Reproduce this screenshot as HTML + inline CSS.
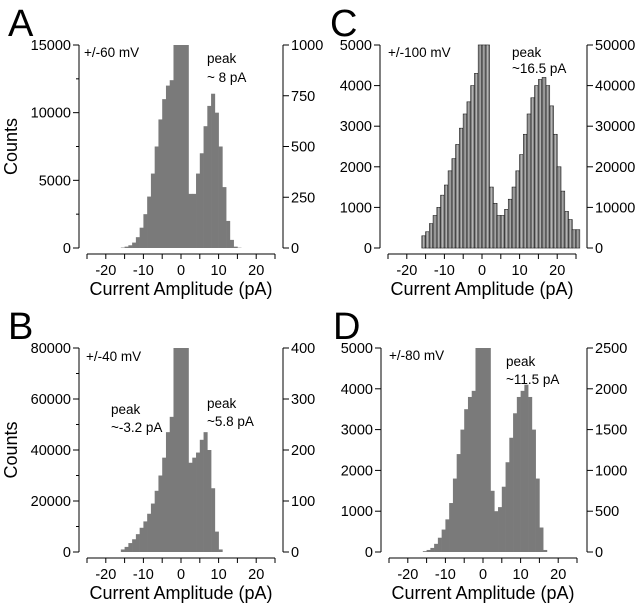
<!DOCTYPE html>
<html><head><meta charset="utf-8"><style>
html,body{margin:0;padding:0;background:#fff;}
svg{display:block;font-family:"Liberation Sans",Arial,sans-serif;}
</style></head><body>
<svg id="fig" width="640" height="607" viewBox="0 0 640 607">
<g id="root"></g>
</svg>
<script>
// Bin left edges in pA (1 pA bins)
const binCenters = [];
for (let b = -25; b <= 25; b++) binCenters.push(b);
// Counts per bin (left-axis units); bins -25..25
const countsA = [0,0,0,0,0,0,0,0,0,30,100,200,400,800,1500,2500,3800,5500,7500,9500,11000,12000,12400,20000,20000,20000,20000,4000,4000,5500,7000,9000,10500,11400,10000,7500,4500,2000,600,100,20,0,0,0,0,0,0,0,0,0,0];
const countsB = [0,0,0,0,0,0,0,0,0,1000,2000,3500,5000,7000,9500,12000,15000,19000,24000,30000,37000,47000,53000,90000,90000,90000,90000,35000,37000,39000,44000,47000,40000,25000,8000,1000,0,0,0,0,0,0,0,0,0,0,0,0,0,0,0];
const countsC = [0,0,0,0,0,0,0,0,0,300,400,600,800,1000,1300,1550,1900,2200,2550,2950,3300,3600,4000,4300,6000,6000,6000,1500,1100,800,800,950,1200,1500,1900,2300,2800,3300,3700,4000,4150,4200,4000,3500,2800,2000,1400,900,700,450,450];
const countsD = [0,0,0,0,0,0,0,0,0,20,50,100,200,350,550,800,1200,1800,2400,3000,3500,3800,3950,6000,6000,6000,6000,1500,1000,1100,1600,2200,2800,3400,3800,3950,4100,3800,3000,1800,600,50,0,0,0,0,0,0,0,0,0];
const leftTicksA = [0,5000,10000,15000], rightTicksA = [0,250,500,750,1000];
const leftTicksB = [0,20000,40000,60000,80000], rightTicksB = [0,100,200,300,400];
const leftTicksC = [0,1000,2000,3000,4000,5000], rightTicksC = [0,10000,20000,30000,40000,50000];
const leftTicksD = [0,1000,2000,3000,4000,5000], rightTicksD = [0,500,1000,1500,2000,2500];
const xTickLabels = [-20,-10,0,10,20];

const NS = "http://www.w3.org/2000/svg";
const root = document.getElementById('root');
function mk(tag, attrs, parent, txt){
  const e = document.createElementNS(NS, tag);
  for (const k in attrs) e.setAttribute(k, attrs[k]);
  if (txt !== undefined) e.textContent = txt;
  (parent||root).appendChild(e);
  return e;
}

function panel(p){
  const g = mk('g', {});
  
  
  const xs = v => p.x0 + v * 3.76;
  const ys = v => p.bottom - (v / p.lmax) * (p.bottom - p.top);
  const bars = mk('g', {}, g);
  
  
  binCenters.forEach((c, i) => {
    const v = Math.min(p.counts[i], p.lmax);
    if (v <= 0) return;
    const x1 = xs(c), x2 = xs(c + 1), y = ys(v);
    const r = mk('rect', {x: x1, y: y, width: x2 - x1 + (p.outline ? 0 : 0.3), height: p.bottom - y,
      fill: p.outline ? '#d0d0d0' : '#7a7a7a', stroke: p.outline ? '#222' : 'none', 'stroke-width': 0.7}, bars);
    
    
    if (p.outline) {
      for (let k = 1; k < 4; k++) {
        const lx = x1 + (x2 - x1) * k / 4;
        mk('line', {x1: lx, x2: lx, y1: y, y2: p.bottom, stroke: k % 2 ? '#444' : '#999', 'stroke-width': 0.5}, bars);
      }
    }
  });
  const la = mk('g', {}, g);
  
  
  mk('line', {x1: p.left, x2: p.left, y1: p.top, y2: p.bottom, stroke: '#000', 'stroke-width': 1}, la);
  p.lticks.forEach((t, i) => {
    const y = ys(t);
    mk('line', {x1: p.left - 6, x2: p.left, y1: y, y2: y, stroke: '#000'}, la);
    mk('text', {x: p.left - 8, y: y + 5, 'text-anchor': 'end', 'font-size': 14.5}, la, t);
    if (p.minor && i < p.lticks.length - 1) {
      const ym = ys((t + p.lticks[i + 1]) / 2);
      mk('line', {x1: p.left - 3, x2: p.left, y1: ym, y2: ym, stroke: '#000'}, la);
    }
  });
  const ra = mk('g', {}, g);
  
  
  mk('line', {x1: p.right, x2: p.right, y1: p.top, y2: p.bottom, stroke: '#000'}, ra);
  const rmax = p.rticks[p.rticks.length - 1];
  p.rticks.forEach(t => {
    const y = p.bottom - (t / rmax) * (p.bottom - p.top);
    mk('line', {x1: p.right, x2: p.right + 6, y1: y, y2: y, stroke: '#000'}, ra);
    mk('text', {x: p.right + 8, y: y + 5, 'font-size': 14.5}, ra, t);
  });
  const xa = mk('g', {}, g);
  
  
  mk('line', {x1: xs(-25), x2: xs(25), y1: p.xaxisY, y2: p.xaxisY, stroke: '#000'}, xa);
  for (let v = -25; v <= 25; v += 5) {
    mk('line', {x1: xs(v), x2: xs(v), y1: p.xaxisY, y2: p.xaxisY + 5, stroke: '#000'}, xa);
  }
  xTickLabels.forEach(v => {
    mk('text', {x: xs(v), y: p.xaxisY + 21, 'text-anchor': 'middle', 'font-size': 14.5}, xa, v);
  });
  const xt = mk('text', {x: xs(0), y: p.xaxisY + 41, 'text-anchor': 'middle', 'font-size': 18}, g, 'Current Amplitude (pA)');
  
  
  if (p.counts_label) {
    const ct = mk('text', {x: 0, y: 0, 'text-anchor': 'middle', 'font-size': 18,
      transform: 'translate(' + 17 + ',' + ((p.top + p.bottom) / 2) + ') rotate(-90)'}, g, 'Counts');
    
    
  }
  const L = mk('text', {x: p.letterX, y: p.top - 9, 'font-size': 38}, g, p.id);
  
  
  p.notes.forEach(n => {
    const t = mk('text', {x: n[0], y: n[1], 'font-size': 13.5}, g, n[2]);
    
    
  });
}

panel({id:'A', counts:countsA, lmax:15000, lticks:leftTicksA, rticks:rightTicksA, minor:true,
  left:79, right:283, top:45, bottom:248, xaxisY:254, x0:181, letterX:8, counts_label:true,
  notes:[[84,57,'+/-60 mV'],[207,63,'peak'],[207,82,'~ 8 pA']]});
panel({id:'B', counts:countsB, lmax:80000, lticks:leftTicksB, rticks:rightTicksB, minor:true,
  left:79, right:283, top:348, bottom:552, xaxisY:558, x0:181, letterX:8, counts_label:true,
  notes:[[86,361,'+/-40 mV'],[111,414,'peak'],[111,432,'~-3.2 pA'],[207,408,'peak'],[207,426,'~5.8 pA']]});
panel({id:'C', counts:countsC, lmax:5000, lticks:leftTicksC, rticks:rightTicksC, minor:false, outline:true,
  left:380, right:587, top:45, bottom:248, xaxisY:254, x0:482, letterX:330, counts_label:false,
  notes:[[388,57,'+/-100 mV'],[512,57,'peak'],[512,73,'~16.5 pA']]});
panel({id:'D', counts:countsD, lmax:5000, lticks:leftTicksD, rticks:rightTicksD, minor:false,
  left:381, right:587, top:348, bottom:552, xaxisY:558, x0:483, letterX:333, counts_label:false,
  notes:[[389,360,'+/-80 mV'],[506,366,'peak'],[506,384,'~11.5 pA']]});
</script>
</body></html>
